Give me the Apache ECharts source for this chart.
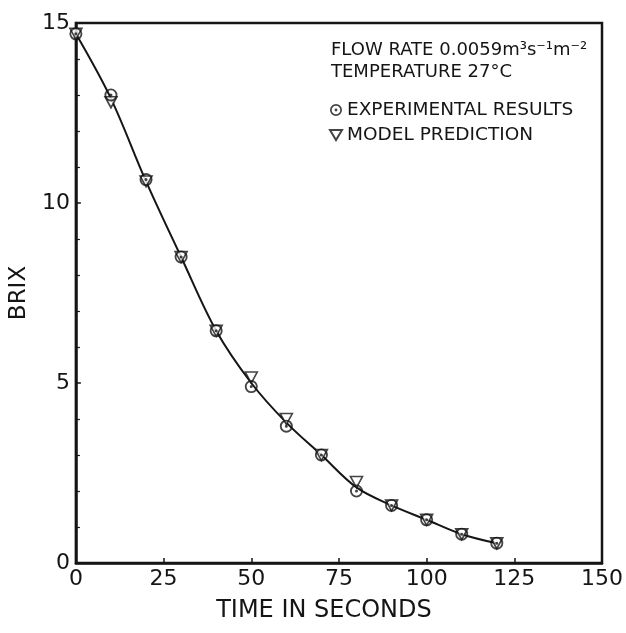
<!DOCTYPE html>
<html>
<head>
<meta charset="utf-8">
<script src="https://cdn.jsdelivr.net/npm/echarts@6/dist/echarts.min.js"></script>
<style>
  html, body { margin: 0; padding: 0; background: #fff; }
  #chart { width: 626px; height: 633px; }
</style>
</head>
<body>
<div id="chart"></div>
<script>
// time in seconds
var times = [0, 10, 20, 30, 40, 50, 60, 70, 80, 90, 100, 110, 120];
// brix values
var experimental = [14.7, 13.0, 10.65, 8.5, 6.45, 4.9, 3.8, 3.0, 2.0, 1.6, 1.2, 0.8, 0.55];
var model = [14.7, 12.8, 10.6, 8.5, 6.45, 5.15, 4.0, 3.0, 2.25, 1.6, 1.2, 0.8, 0.55];
var curve = [14.7, 12.9, 10.6, 8.5, 6.45, 5.0, 3.9, 3.0, 2.1, 1.6, 1.2, 0.8, 0.55];
var xTicks = [0, 25, 50, 75, 100, 125, 150];
var yTicks = [0, 5, 10, 15];

var font = 'DejaVu Sans';
var ink = '#151515';
// circle with a dot in the middle
var dotCircle = 'path://M0,-6A6,6 0 1,1 0,6A6,6 0 1,1 0,-6Z' +
  'M0,-4.3A4.3,4.3 0 1,0 0,4.3A4.3,4.3 0 1,0 0,-4.3Z' +
  'M0,-1.4A1.4,1.4 0 1,1 0,1.4A1.4,1.4 0 1,1 0,-1.4Z';
var downTriangle = 'path://M0,0L12,0L6,10Z';

function pairs(xs, ys) {
  return xs.map(function (x, i) { return [x, ys[i]]; });
}

var myChart = echarts.init(document.getElementById('chart'));
var option = {
  backgroundColor: '#fff',
  animation: false,
  title: {
    text: 'FLOW RATE 0.0059m³s⁻¹m⁻²\nTEMPERATURE 27°C',
    left: 326,
    top: 34,
    textStyle: { fontFamily: font, fontSize: 18, fontWeight: 'normal', color: ink, lineHeight: 22 }
  },
  legend: {
    orient: 'vertical',
    left: 324,
    top: 95,
    itemWidth: 12,
    itemHeight: 12,
    itemGap: 5,
    textStyle: { fontFamily: font, fontSize: 18.5, color: ink, lineHeight: 20 },
    data: [
      { name: 'EXPERIMENTAL RESULTS', icon: dotCircle },
      { name: 'MODEL PREDICTION', icon: downTriangle }
    ]
  },
  grid: {
    left: 73,
    right: 19,
    top: 23,
    bottom: 70,
    show: true,
    borderColor: ink,
    borderWidth: 2.5
  },
  xAxis: {
    type: 'value',
    min: xTicks[0],
    max: xTicks[xTicks.length - 1],
    interval: xTicks[1] - xTicks[0],
    name: 'TIME IN SECONDS',
    nameLocation: 'middle',
    nameGap: 36,
    nameTextStyle: { fontFamily: font, fontSize: 24, color: ink, padding: [0, 30, 0, 0] },
    axisLine: { lineStyle: { color: ink, width: 2.5 } },
    axisTick: { inside: true, length: 5, lineStyle: { color: ink, width: 1.5 } },
    axisLabel: { fontFamily: font, fontSize: 22, color: ink, margin: 5 },
    splitLine: { show: false }
  },
  yAxis: {
    type: 'value',
    min: yTicks[0],
    max: yTicks[yTicks.length - 1],
    interval: yTicks[1] - yTicks[0],
    name: 'BRIX',
    nameLocation: 'middle',
    nameGap: 38,
    nameTextStyle: { fontFamily: font, fontSize: 23, color: ink },
    axisLine: { lineStyle: { color: ink, width: 2.5 } },
    axisTick: { inside: true, length: 5, lineStyle: { color: ink, width: 1.5 } },
    minorTick: { show: true, splitNumber: 5, length: 4, lineStyle: { color: ink, width: 1.2 } },
    axisLabel: { fontFamily: font, fontSize: 22, color: ink, margin: 6 },
    splitLine: { show: false }
  },
  series: [{
    name: 'curve',
    type: 'line',
    smooth: 0.35,
    symbol: 'none',
    lineStyle: { color: ink, width: 2 },
    data: pairs(times, curve),
    z: 1
  }, {
    name: 'MODEL PREDICTION',
    type: 'scatter',
    symbol: downTriangle,
    symbolSize: [12, 11],
    itemStyle: { color: '#fff', borderColor: ink, borderWidth: 1.6 },
    data: pairs(times, model),
    z: 2
  }, {
    name: 'EXPERIMENTAL RESULTS',
    type: 'scatter',
    symbol: dotCircle,
    symbolSize: 13,
    itemStyle: { color: ink },
    data: pairs(times, experimental),
    z: 3
  }]
};
myChart.setOption(option);
</script>
</body>
</html>
